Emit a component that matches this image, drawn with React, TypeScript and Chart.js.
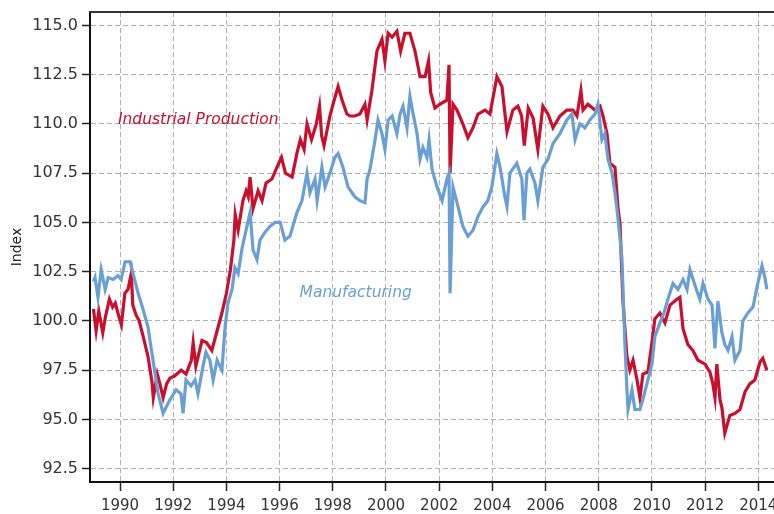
import React, { useEffect, useRef } from "react";
import { Chart, registerables } from "chart.js";

Chart.register(...registerables);

// ---- Data ----
const ipYears = [
  1989.0, 1989.1, 1989.2, 1989.35, 1989.45, 1989.6, 1989.72, 1989.82, 1989.92, 1990.05,
  1990.18, 1990.3, 1990.42, 1990.48, 1990.6, 1990.72, 1990.87, 1991.05, 1991.2, 1991.25,
  1991.4, 1991.5, 1991.62, 1991.75, 1991.88, 1992.05, 1992.3, 1992.48, 1992.68, 1992.75,
  1992.85, 1993.08, 1993.25, 1993.45, 1993.65, 1993.83, 1994.0, 1994.15, 1994.28, 1994.33,
  1994.44, 1994.62, 1994.74, 1994.82, 1994.89, 1995.0, 1995.19, 1995.34, 1995.49, 1995.71,
  1995.9, 1996.07, 1996.22, 1996.47, 1996.65, 1996.78, 1996.92, 1997.03, 1997.2, 1997.38,
  1997.5, 1997.58, 1997.67, 1997.89, 1998.05, 1998.2, 1998.35, 1998.53, 1998.65, 1998.83,
  1999.02, 1999.21, 1999.29, 1999.47, 1999.66, 1999.85, 1999.96, 2000.08, 2000.23, 2000.41,
  2000.55, 2000.71, 2000.9, 2001.09, 2001.28, 2001.47, 2001.6, 2001.68, 2001.84, 2002.03,
  2002.29, 2002.37, 2002.41, 2002.52, 2002.67, 2002.89, 2003.08, 2003.27, 2003.46, 2003.72,
  2003.91, 2004.17, 2004.36, 2004.55, 2004.77, 2004.96, 2005.1, 2005.2, 2005.35, 2005.53,
  2005.71, 2005.9, 2006.09, 2006.28, 2006.54, 2006.8, 2007.03, 2007.18, 2007.33, 2007.41,
  2007.59, 2007.86, 2008.05, 2008.16, 2008.31, 2008.42, 2008.61, 2008.72, 2008.8, 2008.91,
  2009.06, 2009.17, 2009.29, 2009.44, 2009.55, 2009.66, 2009.85, 2010.0, 2010.11, 2010.3,
  2010.49, 2010.68, 2010.94, 2011.05, 2011.17, 2011.35, 2011.54, 2011.73, 2012.0, 2012.18,
  2012.29, 2012.37, 2012.44, 2012.56, 2012.63, 2012.74, 2012.93, 2013.12, 2013.31, 2013.5,
  2013.68, 2013.87, 2014.06, 2014.17, 2014.32,
];
const ipValues = [
  100.6, 99.5, 100.5, 99.4, 100.2, 101.1, 100.7, 100.9, 100.4, 99.8,
  101.4, 101.6, 102.4, 100.8, 100.3, 100.0, 99.2, 98.2, 96.9, 96.1,
  97.3, 96.8, 96.1, 96.8, 97.1, 97.2, 97.5, 97.3, 98.0, 98.9,
  97.7, 99.0, 98.9, 98.5, 99.5, 100.4, 101.4, 102.6, 104.1, 105.4,
  104.6, 106.1, 106.6, 106.3, 107.3, 105.7, 106.6, 106.1, 107.0, 107.2,
  107.8, 108.3, 107.5, 107.3, 108.5, 109.2, 108.7, 110.0, 109.2, 110.0,
  110.9, 109.4, 108.9, 110.4, 111.2, 111.9, 111.2, 110.5, 110.4, 110.4,
  110.5, 111.0, 110.2, 111.7, 113.7, 114.3, 113.2, 114.6, 114.4, 114.7,
  113.7, 114.6, 114.6, 113.7, 112.4, 112.4, 113.2, 111.6, 110.8, 111.0,
  111.2, 113.0, 107.5, 111.0, 110.7, 110.0, 109.3, 109.8, 110.5, 110.7,
  110.5, 112.4, 111.9, 109.6, 110.7, 110.9, 110.4, 108.9, 110.8, 110.3,
  108.7, 110.9, 110.5, 109.8, 110.4, 110.7, 110.7, 110.4, 111.7, 110.7,
  111.0, 110.7, 110.9, 110.4, 109.5, 108.0, 107.8, 105.8, 104.9, 101.0,
  98.2, 97.5, 98.0, 97.0, 96.1, 97.3, 97.4, 98.9, 100.1, 100.4,
  99.9, 100.8, 101.1, 101.2, 99.6, 98.8, 98.5, 98.0, 97.8, 97.4,
  96.8, 96.1, 97.8, 96.0, 95.6, 94.3, 95.2, 95.3, 95.5, 96.4,
  96.8, 97.0, 97.9, 98.1, 97.5,
];

const mfgYears = [
  1989.0, 1989.06, 1989.17, 1989.29, 1989.44, 1989.55, 1989.74, 1989.92, 1990.04, 1990.19,
  1990.38, 1990.49, 1990.68, 1990.86, 1991.05, 1991.17, 1991.32, 1991.43, 1991.62, 1991.8,
  1991.92, 1992.11, 1992.29, 1992.37, 1992.48, 1992.67, 1992.82, 1992.93, 1993.12, 1993.23,
  1993.38, 1993.5, 1993.65, 1993.83, 1993.95, 1994.06, 1994.21, 1994.32, 1994.44, 1994.59,
  1994.77, 1994.89, 1995.0, 1995.15, 1995.26, 1995.45, 1995.64, 1995.83, 1996.02, 1996.2,
  1996.39, 1996.65, 1996.84, 1997.03, 1997.14, 1997.33, 1997.41, 1997.59, 1997.71, 1997.89,
  1998.08, 1998.2, 1998.38, 1998.57, 1998.83, 1999.02, 1999.21, 1999.29, 1999.4, 1999.59,
  1999.7, 1999.85, 1999.96, 2000.08, 2000.23, 2000.41, 2000.53, 2000.64, 2000.79, 2000.9,
  2001.02, 2001.17, 2001.28, 2001.39, 2001.54, 2001.62, 2001.73, 2001.92, 2002.11, 2002.29,
  2002.37, 2002.41, 2002.52, 2002.71, 2002.89, 2003.08, 2003.27, 2003.46, 2003.65, 2003.83,
  2003.98, 2004.17, 2004.29, 2004.47, 2004.55, 2004.66, 2004.92, 2005.11, 2005.19, 2005.3,
  2005.41, 2005.6, 2005.71, 2005.9, 2006.09, 2006.28, 2006.54, 2006.8, 2006.99, 2007.11,
  2007.29, 2007.48, 2007.67, 2007.86, 2007.97, 2008.12, 2008.23, 2008.35, 2008.5, 2008.61,
  2008.7, 2008.87, 2008.98, 2009.06, 2009.1, 2009.25, 2009.36, 2009.55, 2009.66, 2009.81,
  2010.0, 2010.11, 2010.3, 2010.45, 2010.6, 2010.79, 2010.98, 2011.17, 2011.32, 2011.43,
  2011.62, 2011.8, 2011.92, 2012.11, 2012.26, 2012.37, 2012.48, 2012.63, 2012.74, 2012.86,
  2013.01, 2013.12, 2013.31, 2013.42, 2013.61, 2013.8, 2013.98, 2014.14, 2014.25, 2014.32,
];
const mfgValues = [
  102.0, 102.2, 101.2, 102.6, 101.6, 102.2, 102.1, 102.3, 102.1, 103.0,
  103.0, 102.4, 101.4, 100.6, 99.7, 98.6, 97.3, 96.3, 95.3, 95.8,
  96.1, 96.5, 96.3, 95.3, 97.0, 96.7, 97.0, 96.3, 97.7, 98.4,
  98.0, 97.0, 98.0, 97.5, 99.7, 100.9, 101.6, 102.7, 102.4, 103.7,
  104.8, 105.5, 103.6, 103.1, 104.1, 104.5, 104.8, 105.0, 105.0, 104.1,
  104.3, 105.5, 106.1, 107.5, 106.5, 107.2, 106.1, 107.8, 106.8, 107.5,
  108.3, 108.5, 107.8, 106.8, 106.3, 106.1, 106.0, 107.2, 107.7, 109.2,
  110.2, 109.5, 108.7, 110.2, 110.4, 109.5, 110.5, 110.9, 109.8, 111.4,
  110.5, 109.5, 108.2, 108.8, 108.3, 109.2, 107.7, 106.8, 106.1, 107.2,
  107.5, 101.4, 106.8, 105.8, 104.8, 104.3, 104.6, 105.3, 105.8, 106.1,
  106.8, 108.5, 107.8, 106.3, 105.8, 107.5, 108.0, 107.2, 105.1, 107.5,
  107.7, 107.0, 106.1, 107.8, 108.2, 109.0, 109.5, 110.2, 110.5, 109.2,
  110.0, 109.8, 110.2, 110.5, 111.0, 109.2, 109.5, 108.2, 107.5, 106.5,
  105.5, 103.2, 99.0, 96.5, 95.5, 96.5, 95.5, 95.5, 96.0, 96.8,
  97.8, 99.2, 99.9, 100.4, 101.1, 101.9, 101.6, 102.1, 101.6, 102.6,
  101.8, 101.1, 101.9, 101.1, 100.8, 98.6, 101.0, 99.4, 98.8, 98.5,
  99.2, 98.0, 98.5, 100.0, 100.4, 100.7, 101.9, 102.8, 102.2, 101.6,
];

const xTickYears = [1990, 1992, 1994, 1996, 1998, 2000, 2002, 2004, 2006, 2008, 2010, 2012, 2014];
const yTickValues = [92.5, 95.0, 97.5, 100.0, 102.5, 105.0, 107.5, 110.0, 112.5, 115.0];
const seriesNames = ["Industrial Production", "Manufacturing"];
const axisTitle = "Index";

const RED = "#C8102E";
const BLUE = "#6A9FD4";

const labelsPlugin = {
  id: "seriesLabels",
  afterDatasetsDraw(chart: any) {
    const { ctx, chartArea, scales } = chart;
    const x = scales.x;
    const y = scales.y;
    ctx.save();
    // top frame line
    ctx.strokeStyle = "#333";
    ctx.lineWidth = 2;
    ctx.beginPath();
    ctx.moveTo(chartArea.left - 1, chartArea.top);
    ctx.lineTo(chartArea.right, chartArea.top);
    ctx.stroke();
    // series labels
    ctx.font = "italic 15.5px 'DejaVu Sans'";
    ctx.textBaseline = "middle";
    ctx.textAlign = "left";
    ctx.fillStyle = RED;
    ctx.fillText(seriesNames[0], x.getPixelForValue(1989.92), y.getPixelForValue(110.2));
    ctx.fillStyle = BLUE;
    ctx.fillText(seriesNames[1], x.getPixelForValue(1996.75), y.getPixelForValue(101.4));
    ctx.restore();
  },
};

export default function App() {
  const ref = useRef<HTMLCanvasElement | null>(null);
  useEffect(() => {
    if (!ref.current) return;
    const chart = new Chart(ref.current, {
      type: "line",
      data: {
        datasets: [
          {
            label: seriesNames[1],
            data: mfgYears.map((yr, i) => ({ x: yr, y: mfgValues[i] })),
            borderColor: BLUE,
            borderWidth: 3.2,
            pointRadius: 0,
            tension: 0,
            order: 0,
          },
          {
            label: seriesNames[0],
            data: ipYears.map((yr, i) => ({ x: yr, y: ipValues[i] })),
            borderColor: RED,
            borderWidth: 3.2,
            pointRadius: 0,
            tension: 0,
            order: 1,
          },
        ],
      },
      options: {
        animation: false,
        responsive: false,
        maintainAspectRatio: false,
        layout: { padding: { top: 12, left: 0, right: 0, bottom: 0 } },
        plugins: { legend: { display: false }, tooltip: { enabled: false } },
        scales: {
          x: {
            type: "linear",
            min: 1988.87,
            max: 2014.59,
            afterBuildTicks: (s: any) => {
              s.ticks = xTickYears.map((v) => ({ value: v }));
            },
            afterFit: (s: any) => {
              s.height = 32;
              s.paddingLeft = 0;
              s.paddingRight = 0;
            },
            ticks: {
              autoSkip: false,
              maxRotation: 0,
              padding: 6,
              color: "#333",
              font: { family: "'DejaVu Sans'", size: 15 },
              callback: (v: any) => String(v),
            },
            grid: {
              color: "#b0b0b0",
              lineWidth: 1,
              tickLength: 9,
              tickColor: "#222",
              tickWidth: 1.5,
            },
            border: { display: true, color: "#111", width: 2, dash: [5, 3] },
          },
          y: {
            type: "linear",
            min: 91.82,
            max: 115.68,
            afterBuildTicks: (s: any) => {
              s.ticks = yTickValues.map((v) => ({ value: v }));
            },
            afterFit: (s: any) => {
              s.width = 90;
              s.paddingTop = 0;
              s.paddingBottom = 0;
            },
            ticks: {
              padding: 4,
              color: "#333",
              font: { family: "'DejaVu Sans'", size: 16 },
              callback: (v: any) => Number(v).toFixed(1),
            },
            title: {
              display: true,
              text: axisTitle,
              color: "#222",
              font: { family: "'DejaVu Sans'", size: 14 },
              padding: { top: 9, bottom: 0 },
            },
            grid: {
              color: "#b0b0b0",
              lineWidth: 1,
              tickLength: 8,
              tickColor: "#222",
              tickWidth: 1.5,
            },
            border: { display: true, color: "#111", width: 2, dash: [5, 3] },
          },
        },
      },
      plugins: [labelsPlugin],
    } as any);
    return () => chart.destroy();
  }, []);
  return (
    <div style={{ position: "fixed", left: 0, top: 0, width: 774, height: 514, background: "#fff" }}>
      <canvas ref={ref} width={774} height={514} style={{ display: "block" }} />
    </div>
  );
}
